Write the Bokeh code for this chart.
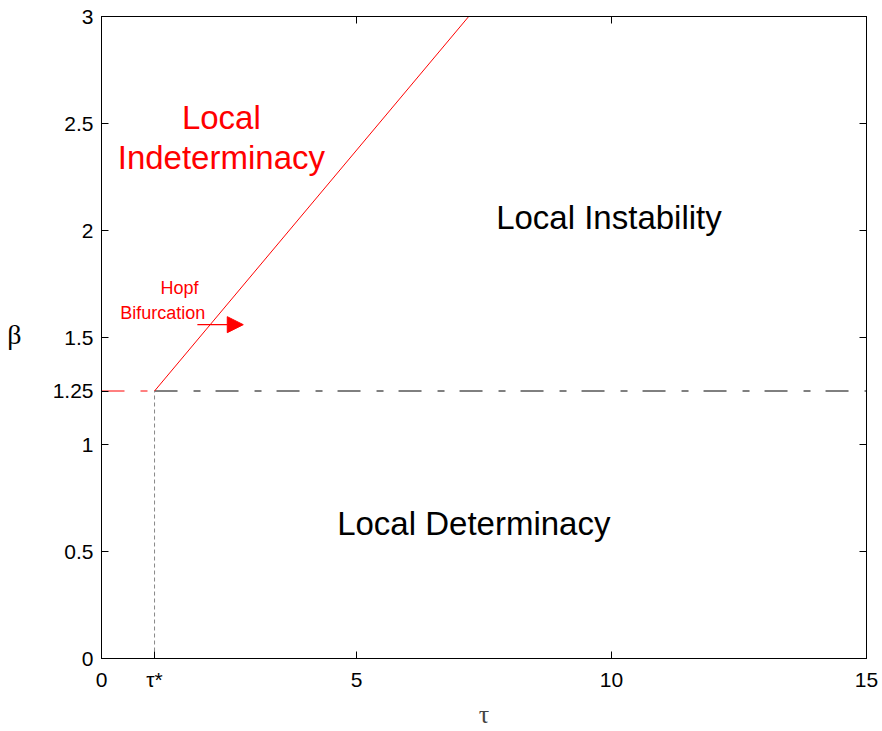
from bokeh.plotting import figure
from bokeh.models import Range1d, LinearAxis, FixedTicker, Label, Arrow, NormalHead
from bokeh.embed import file_html
from bokeh.resources import INLINE

# Region boundaries in the (tau, beta) plane
tau_star = 1.04
beta_crit = 1.25
hopf_tau = [1.04, 7.2]
hopf_beta = [1.25, 3.0]
x_ticks = [0, 1.04, 5, 10, 15]
x_tick_labels = ["0", "τ*", "5", "10", "15"]
y_ticks = [0, 0.5, 1, 1.25, 1.5, 2, 2.5, 3]
y_tick_labels = ["0", "0.5", "1", "1.25", "1.5", "2", "2.5", "3"]
arrow_tau = [1.88, 2.78]
arrow_beta = 1.56

FONT = "Liberation Sans"
SERIF = "Liberation Serif"

p = figure(width=882, height=731, frame_width=765, frame_height=642,
           x_range=Range1d(0, 15), y_range=Range1d(0, 3),
           output_backend="svg", toolbar_location=None,
           x_axis_location=None, y_axis_location=None,
           min_border_left=101, min_border_top=16, min_border_right=16, min_border_bottom=73)
p.xgrid.visible = False
p.ygrid.visible = False
p.outline_line_color = "black"
p.outline_line_width = 1
p.background_fill_color = "white"
p.border_fill_color = "white"


def style_axis(ax, ticks, labels):
    ax.ticker = FixedTicker(ticks=ticks)
    ax.major_tick_in = 7
    ax.major_tick_out = 0
    ax.minor_tick_in = 0
    ax.minor_tick_out = 0
    ax.axis_line_color = "black"
    ax.major_tick_line_color = "black"
    ax.major_label_text_font = FONT
    ax.major_label_text_font_size = "21px"
    ax.major_label_text_color = "black"
    ax.major_label_overrides = {t: l for t, l in zip(ticks, labels)}
    ax.major_label_standoff = 9


bottom = LinearAxis()
style_axis(bottom, x_ticks, x_tick_labels)
bottom.axis_label = "τ"
bottom.axis_label_text_font = SERIF
bottom.axis_label_text_font_size = "26px"
bottom.axis_label_text_font_style = "normal"
bottom.axis_label_standoff = 6

left = LinearAxis()
style_axis(left, y_ticks, y_tick_labels)
left.major_label_standoff = 8

# beta symbol drawn as an upright label on an outer left axis
beta_axis = LinearAxis(ticker=FixedTicker(ticks=[1.515]),
                       major_label_overrides={1.515: "β"},
                       major_label_text_font=SERIF, major_label_text_font_size="28px",
                       major_label_text_color="black", major_label_standoff=22,
                       axis_line_color=None, major_tick_line_color=None,
                       minor_tick_line_color=None)

top = LinearAxis()
style_axis(top, [0, 5, 10, 15], ["", "", "", ""])
top.major_label_standoff = 0
right = LinearAxis()
style_axis(right, [0, 0.5, 1, 1.5, 2, 2.5, 3], [""] * 7)
right.major_label_standoff = 0

p.add_layout(bottom, "below")
p.add_layout(left, "left")
p.add_layout(beta_axis, "left")
p.add_layout(top, "above")
p.add_layout(right, "right")

# Critical beta level (dash-dot), red up to tau*, black beyond
p.line([0, tau_star], [beta_crit, beta_crit], line_color="red", line_width=1,
       line_dash="23 16 7 15")
p.line([tau_star, 15], [beta_crit, beta_crit], line_color="black", line_width=1,
       line_dash="23 16 7 15")

# tau* marker
p.line([tau_star, tau_star], [0, beta_crit], line_color="#888888", line_width=1,
       line_dash="4 3")

# Hopf bifurcation boundary
p.line(hopf_tau, hopf_beta, line_color="red", line_width=1)

p.add_layout(Arrow(end=NormalHead(size=16, fill_color="red", line_color="red"),
                   x_start=arrow_tau[0], y_start=arrow_beta,
                   x_end=arrow_tau[1], y_end=arrow_beta,
                   line_color="red", line_width=1.2))


def lab(x, y, text, size, color="black", font=FONT):
    p.add_layout(Label(x=x, y=y, text=text, text_font=font, text_font_size=size,
                       text_color=color, text_align="center", text_baseline="middle"))


# Region names
lab(2.35, 2.53, "Local", "33px", "red")
lab(2.35, 2.34, "Indeterminacy", "33px", "red")
lab(9.95, 2.06, "Local Instability", "33px")
lab(7.3, 0.63, "Local Determinacy", "33px")
lab(1.53, 1.73, "Hopf", "18px", "red")
lab(1.2, 1.615, "Bifurcation", "18px", "red")

open("out.html", "w").write(file_html(p, INLINE))
